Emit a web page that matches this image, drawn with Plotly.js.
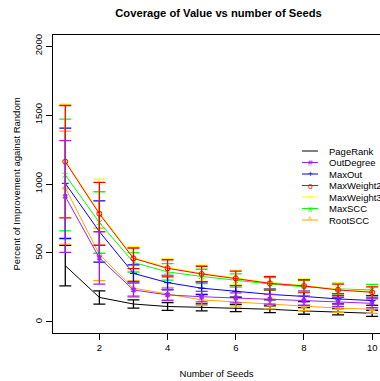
<!DOCTYPE html>
<html>
<head>
<meta charset="utf-8">
<script src="https://cdn.plot.ly/plotly-3.0.1.min.js"></script>
<style>html,body{margin:0;padding:0;background:#fff;}#chart{width:380px;height:381px;}</style>
</head>
<body>
<div id="chart"></div>
<script>
var seeds = [1, 2, 3, 4, 5, 6, 7, 8, 9, 10];
var seriesNames = ["PageRank", "OutDegree", "MaxOut", "MaxWeight2", "MaxWeight3", "MaxSCC", "RootSCC"];
var seriesColors = ["#000000", "#A020F0", "#0000FF", "#FF0000", "#FFFF00", "#00FF00", "#FFA500"];
var seriesGlyphs = ["", "#", "+", "o", "+", "x", "^"];

var pageRank      = [408, 178, 130, 112, 106, 100, 92, 80, 74, 63];
var pageRankErr   = [147, 48, 30, 28, 25, 25, 25, 24, 23, 22];
var outDegree     = [910, 464, 232, 196, 183, 175, 165, 155, 145, 135];
var outDegreeErr  = [405, 190, 50, 42, 38, 36, 35, 34, 33, 32];
var maxOut        = [1005, 655, 352, 285, 245, 222, 200, 185, 167, 155];
var maxOutErr     = [400, 222, 62, 52, 46, 43, 40, 38, 36, 35];
var maxWeight2    = [1162, 784, 461, 389, 348, 316, 280, 261, 232, 215];
var maxWeight2Err = [407, 228, 75, 62, 56, 52, 48, 45, 42, 40];
var maxWeight3    = [1168, 795, 468, 396, 354, 322, 286, 266, 238, 220];
var maxWeight3Err = [410, 240, 78, 64, 58, 54, 50, 47, 44, 42];
var maxSCC        = [1065, 721, 432, 363, 330, 300, 275, 255, 240, 232];
var maxSCCErr     = [405, 223, 70, 60, 52, 48, 46, 44, 42, 40];
var rootSCC       = [973, 490, 245, 205, 160, 145, 130, 115, 100, 92];
var rootSCCErr    = [410, 190, 55, 45, 40, 37, 35, 33, 30, 30];

var xTicks = [2, 4, 6, 8, 10];
var yTicks = [0, 500, 1000, 1500, 2000];

var FONT = "Liberation Sans, Arial, Helvetica, sans-serif";

function mk(idx, y, err, symbol) {
  var color = seriesColors[idx];
  return {
    type: "scatter", mode: symbol ? "lines+markers" : "lines",
    name: seriesNames[idx], x: seeds, y: y, showlegend: false,
    line: {color: color, width: 1},
    marker: {symbol: symbol || "circle", size: 5, color: color, line: {color: color, width: 1}},
    error_y: {type: "data", array: err, visible: true, color: color, thickness: 1.3, width: 6}
  };
}

var traces = [
  mk(0, pageRank, pageRankErr, null),
  mk(6, rootSCC, rootSCCErr, "triangle-up-open"),
  mk(5, maxSCC, maxSCCErr, "x-thin-open"),
  mk(2, maxOut, maxOutErr, "cross-thin-open"),
  mk(4, maxWeight3, maxWeight3Err, "cross-thin-open"),
  mk(3, maxWeight2, maxWeight2Err, "circle-open"),
  mk(1, outDegree, outDegreeErr, "hash-open")
];

// Manual legend (R style, no box), positioned in paper coordinates
var M = {l: 53, r: 0, t: 35, b: 48};
var plotW = 380 - M.l - M.r, plotH = 381 - M.t - M.b;
function px2x(px) { return (px - M.l) / plotW; }
function py2y(py) { return (381 - M.b - py) / plotH; }
var shapes = [], annotations = [];
seriesNames.forEach(function (name, i) {
  var yy = py2y(151 + i * 11.5);
  shapes.push({type: "line", xref: "paper", yref: "paper", x0: px2x(302), x1: px2x(318), y0: yy, y1: yy,
               line: {color: seriesColors[i], width: 1}});
  if (seriesGlyphs[i]) {
    annotations.push({xref: "paper", yref: "paper", x: px2x(310), y: yy, text: seriesGlyphs[i], showarrow: false,
                      xanchor: "center", yanchor: "middle", font: {family: FONT, size: 8.5, color: seriesColors[i]}});
  }
  annotations.push({xref: "paper", yref: "paper", x: px2x(327), y: yy, text: name, showarrow: false,
                    xanchor: "left", yanchor: "middle", font: {family: FONT, size: 9.5, color: "#000"}});
});

var layout = {
  width: 380, height: 381,
  margin: M,
  paper_bgcolor: "#fff", plot_bgcolor: "#fff",
  font: {family: FONT, size: 9.5, color: "#000"},
  title: {text: "<b>Coverage of Value vs number of Seeds</b>", font: {family: FONT, size: 11.2, color: "#000"},
          x: 0.575, xanchor: "center", y: 0.965, yanchor: "middle"},
  showlegend: false,
  shapes: shapes,
  annotations: annotations,
  xaxis: {range: [0.64, 10.23], tickvals: xTicks, ticktext: xTicks.map(String),
          showgrid: false, zeroline: false, showline: true, linecolor: "#000", linewidth: 1, mirror: true,
          ticks: "outside", ticklen: 6, tickcolor: "#000", tickfont: {size: 9.5},
          title: {text: "Number of Seeds", font: {size: 9.5}, standoff: 17}, automargin: false},
  yaxis: {range: [-80, 2080], tickvals: yTicks, ticktext: yTicks.map(String), tickangle: -90,
          showgrid: false, zeroline: false, showline: true, linecolor: "#000", linewidth: 1,
          ticks: "outside", ticklen: 6, tickcolor: "#000", tickfont: {size: 9.5},
          title: {text: "Percent of Improvement against Random", font: {size: 9.5}, standoff: 10}, automargin: false}
};

Plotly.newPlot("chart", traces, layout, {staticPlot: true, displayModeBar: false});
</script>
</body>
</html>
